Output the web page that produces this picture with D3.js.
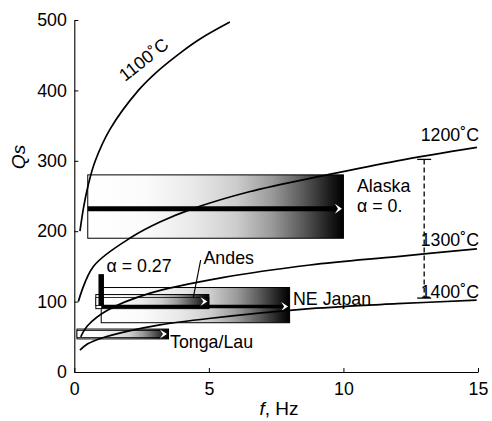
<!DOCTYPE html>
<html>
<head>
<meta charset="utf-8">
<script src="https://cdn.jsdelivr.net/npm/d3@7"></script>
<style>
  html, body { margin: 0; padding: 0; background: #fff; }
  svg { display: block; }
  text { font-family: "Liberation Sans", Arial, Helvetica, sans-serif; fill: #000; }
</style>
</head>
<body>
<svg id="chart" width="492" height="421"></svg>
<script>
// Axis ticks
const xTicks = [0, 5, 10, 15];
const yTicks = [0, 100, 200, 300, 400, 500];

// Isotherms: Qs versus frequency (f in Hz, Qs)
const isoNames = ["1100˚C", "1200˚C", "1300˚C", "1400˚C"];
const iso1100 = [[0.21, 200], [0.35, 235], [0.52, 266], [0.77, 299], [1.33, 345], [2.38, 400], [3.06, 426], [3.93, 453], [4.67, 473], [5.78, 497]];
const iso1200 = [[0.15, 100], [0.71, 150], [2.15, 192], [3.18, 213], [4.41, 232], [6.5, 256], [9.39, 280], [12, 300], [14.96, 319]];
const iso1300 = [[0.24, 50], [0.5, 66], [1.2, 87], [2.82, 112], [5.5, 134], [8.76, 152], [12, 164], [14.96, 175]];
const iso1400 = [[0.21, 31], [0.5, 40], [1, 48], [2, 58], [3.18, 67], [5, 76], [8.76, 90], [12, 97], [14.95, 102]];

// Observed attenuation regions
const regions = ["Alaska", "NE Japan", "Andes", "Tonga/Lau"];
const regionFMin = [0.5, 1.0, 0.8, 0.1];
const regionFMax = [10, 8, 5, 3.5];
const regionQLow = [190, 70, 90, 47];
const regionQHigh = [280, 120, 110, 61];
const regionQMid = [232, 93, 100, 54];
const regionAlpha = ["α = 0.", "", "", ""];

// Frequency-dependence marker (α = 0.27)
const alphaLabel = "α = 0.27";
const alphaF = 1.0;
const alphaQ = [94, 139];

// Temperature-range bar
const rangeF = 13;
const rangeQ = [105, 302];

const svg = d3.select("#chart");
const x = d3.scaleLinear().domain([0, 15]).range([74.3, 478]);
const y = d3.scaleLinear().domain([0, 500]).range([372, 20]);

// Grey ramp used by every region box
const defs = svg.append("defs");
const grad = defs.append("linearGradient").attr("id", "ramp")
  .attr("x1", "0%").attr("x2", "100%").attr("y1", "0%").attr("y2", "0%");
[[0, "#ffffff"], [0.22, "#fbfbfb"], [0.42, "#e8e8e8"], [0.58, "#cdcdcd"],
 [0.72, "#9a9a9a"], [0.85, "#555555"], [0.95, "#1a1a1a"], [1, "#000000"]]
  .forEach(([o, c]) => grad.append("stop").attr("offset", o).attr("stop-color", c));

const plot = svg.append("g");

// Region boxes: Alaska first, then NE Japan, Andes over it, Tonga/Lau
const order = [0, 1, 2, 3];
order.forEach(i => {
  plot.append("rect")
    .attr("x", x(regionFMin[i]))
    .attr("y", y(regionQHigh[i]))
    .attr("width", x(regionFMax[i]) - x(regionFMin[i]))
    .attr("height", y(regionQLow[i]) - y(regionQHigh[i]))
    .attr("fill", "url(#ramp)")
    .attr("stroke", "#000").attr("stroke-width", 1);
});

// Central trend of each region: solid bar for the wide ones, shaded band for the narrow ones
const bandHalf = [0, 0, 4, 3.5];
const lineWidth = [5, 3.5, 0, 0];
function arrow(tip, cy, h) {
  plot.append("path")
    .attr("d", `M${tip - 7},${cy - h} L${tip},${cy} L${tip - 7},${cy + h} L${tip - 4},${cy} Z`)
    .attr("fill", "#fff");
}
[2, 3].forEach(i => {
  const cy = y(regionQMid[i]);
  plot.append("rect")
    .attr("x", x(regionFMin[i]))
    .attr("y", cy - bandHalf[i])
    .attr("width", x(regionFMax[i]) - x(regionFMin[i]))
    .attr("height", 2 * bandHalf[i])
    .attr("fill", "url(#ramp)")
    .attr("stroke", "#000").attr("stroke-width", 0.8);
});
[0, 1].forEach(i => {
  const cy = y(regionQMid[i]);
  plot.append("line")
    .attr("x1", x(regionFMin[i])).attr("x2", x(regionFMax[i]) - 1)
    .attr("y1", cy).attr("y2", cy)
    .attr("stroke", "#000").attr("stroke-width", lineWidth[i]);
});
order.forEach(i => {
  arrow(x(regionFMax[i]) - 1.5, y(regionQMid[i]), i === 0 ? 5 : 4.5);
});

// α = 0.27 marker
plot.append("line")
  .attr("x1", x(alphaF)).attr("x2", x(alphaF))
  .attr("y1", y(alphaQ[0])).attr("y2", y(alphaQ[1]))
  .attr("stroke", "#000").attr("stroke-width", 5.5);

// Isotherm curves
const line = d3.line().x(d => x(d[0])).y(d => y(d[1])).curve(d3.curveCatmullRom.alpha(0.5));
[iso1100, iso1200, iso1300, iso1400].forEach(pts => {
  plot.append("path").attr("d", line(pts))
    .attr("fill", "none").attr("stroke", "#000").attr("stroke-width", 1.7);
});

// Dashed temperature-range bar with end caps
plot.append("line")
  .attr("x1", x(rangeF)).attr("x2", x(rangeF))
  .attr("y1", y(rangeQ[1])).attr("y2", y(rangeQ[0]))
  .attr("stroke", "#000").attr("stroke-width", 1.3).attr("stroke-dasharray", "5,3");
rangeQ.forEach(q => {
  plot.append("line")
    .attr("x1", x(rangeF) - 7).attr("x2", x(rangeF) + 7)
    .attr("y1", y(q)).attr("y2", y(q))
    .attr("stroke", "#000").attr("stroke-width", 1.3);
});

// Axes
const xAxis = d3.axisBottom(x).tickValues(xTicks).tickSize(-4).tickSizeOuter(0).tickPadding(10);
const yAxis = d3.axisLeft(y).tickValues(yTicks).tickSize(-4).tickSizeOuter(0).tickPadding(7.5);
const gx = svg.append("g").attr("transform", "translate(0,372)").call(xAxis);
const gy = svg.append("g").attr("transform", "translate(74.3,0)").call(yAxis);
[gx, gy].forEach(g => {
  g.select(".domain").attr("stroke", "#000").attr("stroke-width", 1.1);
  g.selectAll(".tick line").attr("stroke", "#000").attr("stroke-width", 1);
  g.selectAll(".tick text").attr("font-size", 17.8)
    .attr("font-family", '"Liberation Sans", Arial, sans-serif').attr("fill", "#000");
});

// Axis titles
const xt = svg.append("text").attr("x", 279).attr("y", 415)
  .attr("text-anchor", "middle").attr("font-size", 19);
xt.append("tspan").attr("font-style", "italic").text("f");
xt.append("tspan").text(", Hz");
svg.append("text").attr("transform", "translate(25,157) rotate(-90)")
  .attr("text-anchor", "middle").attr("font-size", 19).attr("font-style", "italic").text("Qs");

// Isotherm labels
svg.append("text").attr("transform", "translate(125,82) rotate(-38)")
  .attr("font-size", 17.8).text(isoNames[0]);
const isoEnds = [null, iso1200[iso1200.length - 1], iso1300[iso1300.length - 1], iso1400[iso1400.length - 1]];
[1, 2, 3].forEach(i => {
  svg.append("text")
    .attr("x", 479).attr("y", y(isoEnds[i][1]) - (i === 1 ? 6 : 2.5))
    .attr("text-anchor", "end").attr("font-size", 17.8).text(isoNames[i]);
});

// Region labels
const fs = 17.8;
svg.append("text").attr("x", 357).attr("y", 192).attr("font-size", fs).text(regions[0]);
svg.append("text").attr("x", 357).attr("y", 212).attr("font-size", fs).text(regionAlpha[0]);
svg.append("text").attr("x", 293).attr("y", 305).attr("font-size", fs).text(regions[1]);
svg.append("text").attr("x", 203.5).attr("y", 264).attr("font-size", fs).text(regions[2]);
svg.append("text").attr("x", 170).attr("y", 348).attr("font-size", fs).text(regions[3]);
svg.append("text").attr("x", 106.5).attr("y", 271.5).attr("font-size", fs).text(alphaLabel);

// Leader from the Andes label to its trend band
svg.append("line")
  .attr("x1", 200.7).attr("y1", 260).attr("x2", 193.3).attr("y2", 297.5)
  .attr("stroke", "#000").attr("stroke-width", 1.2);
</script>
</body>
</html>
